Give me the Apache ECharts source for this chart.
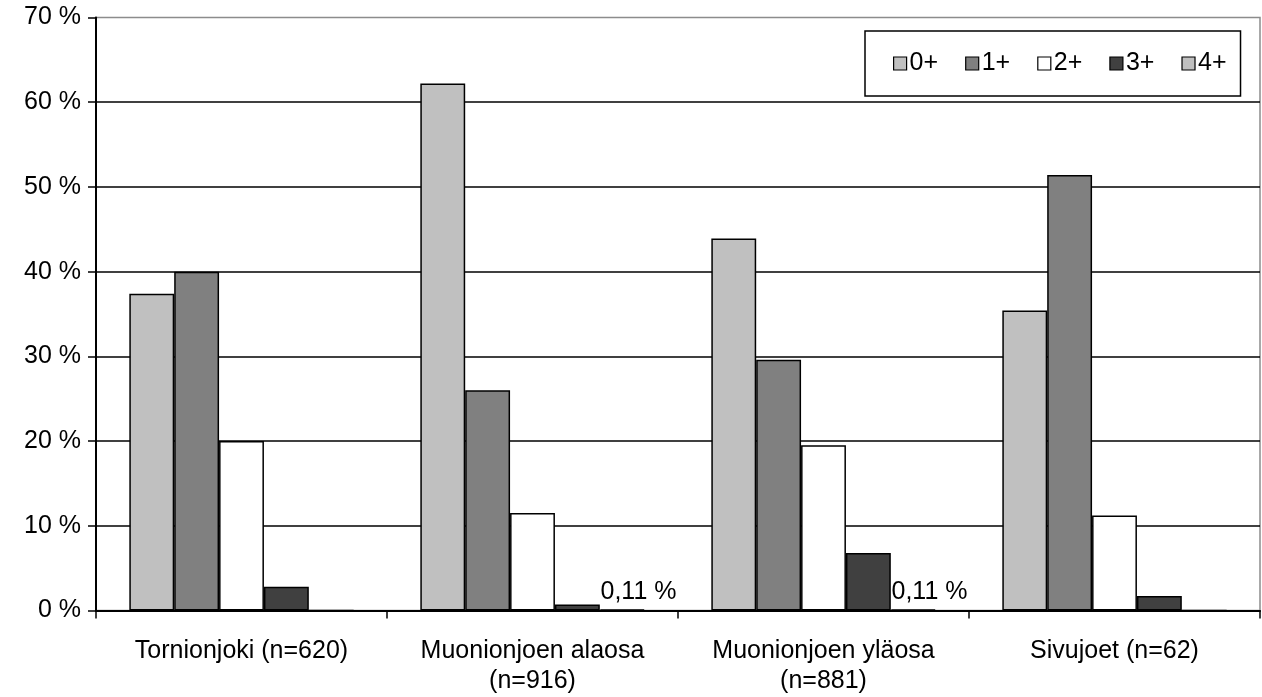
<!DOCTYPE html>
<html>
<head>
<meta charset="utf-8">
<script src="https://cdn.jsdelivr.net/npm/echarts@6/dist/echarts.min.js"></script>
<style>
  html, body { margin: 0; padding: 0; background: #fff; }
  #chart { width: 1262px; height: 697px; }
</style>
</head>
<body>
<div id="chart"></div>
<script>
// Age-group shares per river section (percent)
const categories = [
  'Tornionjoki (n=620)',
  'Muonionjoen alaosa\n(n=916)',
  'Muonionjoen yläosa\n(n=881)',
  'Sivujoet (n=62)'
];
const seriesNames = ['0+', '1+', '2+', '3+', '4+'];
const age0 = [37.4, 62.2, 43.9, 35.4];
const age1 = [40.0, 26.0, 29.6, 51.4];
const age2 = [20.0, 11.5, 19.5, 11.2];
const age3 = [2.8, 0.7, 6.8, 1.7];
const age4 = [0, 0.11, 0.11, 0];
const yTicks = [0, 10, 20, 30, 40, 50, 60, 70];

const seriesData = [age0, age1, age2, age3, age4];
const fills = ['#C0C0C0', '#808080', '#FFFFFF', '#404040', '#C0C0C0'];
const FONT = '"Liberation Sans", Arial, sans-serif';
const FS = 25;

const chart = echarts.init(document.getElementById('chart'), null, { renderer: 'canvas' });

const series = seriesNames.map((name, i) => ({
  name: name,
  type: 'bar',
  data: seriesData[i],
  barGap: '0%',
  barCategoryGap: '22.9%',
  itemStyle: { color: fills[i], borderColor: '#000', borderWidth: 1.5 },
  label: i === 4 ? {
    show: true,
    position: [1, -5],
    align: 'left',
    verticalAlign: 'bottom',
    color: '#000',
    fontSize: FS,
    fontFamily: FONT,
    formatter: p => p.value > 0 ? p.value.toFixed(2).replace('.', ',') + ' %' : ''
  } : { show: false },
  emphasis: { disabled: true },
  animation: false
}));

chart.setOption({
  animation: false,
  textStyle: { fontFamily: FONT },
  grid: {
    left: 96, right: 2, top: 17.5, bottom: 86.5,
    show: true, borderColor: '#8c8c8c', borderWidth: 1.5,
    containLabel: false
  },
  legend: {
    data: seriesNames,
    left: 865,
    top: 31,
    orient: 'horizontal',
    padding: [20, 14, 20, 28],
    itemWidth: 13,
    itemHeight: 13,
    itemGap: 27,
    borderColor: '#000',
    borderWidth: 1.5,
    backgroundColor: '#fff',
    icon: 'rect',
    textStyle: { fontSize: FS, color: '#000', fontFamily: FONT, padding: [0, 0, 0, -2] },
    itemStyle: { borderColor: '#000', borderWidth: 1.2 },
    selectedMode: false
  },
  xAxis: {
    type: 'category',
    data: categories,
    axisLine: { lineStyle: { color: '#000', width: 2 } },
    axisTick: { show: true, length: 8, lineStyle: { color: '#000', width: 1.5 } },
    axisLabel: { color: '#000', fontSize: FS, fontFamily: FONT, margin: 26, lineHeight: 30, interval: 0 },
    splitLine: { show: false }
  },
  yAxis: {
    type: 'value',
    min: yTicks[0],
    max: yTicks[yTicks.length - 1],
    interval: 10,
    axisLine: { show: true, lineStyle: { color: '#000', width: 2 } },
    axisTick: { show: true, inside: false, length: 8, lineStyle: { color: '#000', width: 1.5 } },
    axisLabel: { color: '#000', fontSize: FS, fontFamily: FONT, margin: 15, formatter: v => v + ' %' },
    splitLine: { show: true, showMaxLine: false, lineStyle: { color: '#000', width: 1.5 } }
  },
  series: series
});
</script>
</body>
</html>
